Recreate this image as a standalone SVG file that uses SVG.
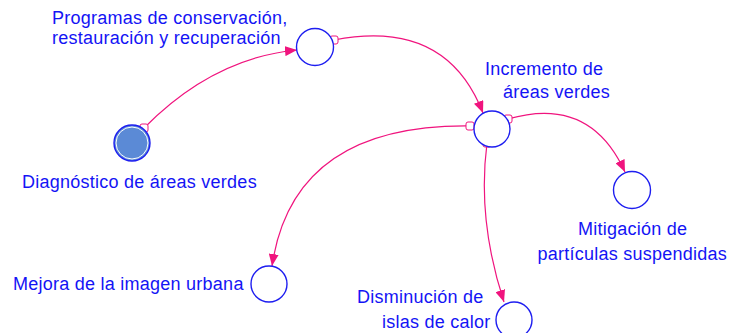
<svg xmlns="http://www.w3.org/2000/svg" width="731" height="333" viewBox="0 0 731 333">
<defs>
<marker id="arr" viewBox="0 0 12 10" refX="12" refY="5" markerWidth="12" markerHeight="10" markerUnits="userSpaceOnUse" orient="auto">
<path d="M0,0 L12,5 L0,10 Z" fill="#f0147e"/>
</marker>
</defs>
<style>
text{font-family:"Liberation Sans",Arial,sans-serif;font-size:18px;letter-spacing:0.25px;fill:#1414f5}
.n{fill:#fff;stroke:#1e1ef0;stroke-width:1.4}
.c{fill:none;stroke:#f0147e;stroke-width:1.2;marker-end:url(#arr)}
.s{fill:#fff;stroke:#f0147e;stroke-width:1}
</style>
<rect width="731" height="333" fill="#fff"/>
<g id="connectors">
<path class="c" d="M144,128 Q213,58 297,50"/>
<path class="c" d="M334,40 Q446,18 483,113"/>
<path class="c" d="M508,119 Q590,95 625,172"/>
<path class="c" d="M470,126 Q293,124 272,266"/>
<path class="c" d="M487,143 Q477,220 504,302"/>
<rect class="s" x="140" y="124" width="8" height="8" rx="2"/>
<rect class="s" x="330" y="36" width="8" height="8" rx="2"/>
<rect class="s" x="466" y="122" width="8" height="8" rx="2"/>
<rect class="s" x="504" y="115" width="8" height="8" rx="2"/>
<rect class="s" x="483" y="139" width="8" height="8" rx="2"/>
</g>
<g id="diagnostico">
<circle cx="132" cy="143" r="18" fill="#5b8ad6" stroke="#1e1ef0" stroke-width="1.4"/>
<circle cx="132" cy="143" r="16" fill="none" stroke="#fff" stroke-width="1"/>
<text x="22" y="188">Diagnóstico de áreas verdes</text>
</g>
<g id="programas">
<circle class="n" cx="315" cy="47" r="18.5"/>
<text x="52" y="24">Programas de conservación,</text>
<text x="52" y="44">restauración y recuperación</text>
</g>
<g id="incremento">
<circle class="n" cx="492" cy="129" r="18"/>
<text x="485" y="75">Incremento de</text>
<text x="503" y="98">áreas verdes</text>
</g>
<g id="mitigacion">
<circle class="n" cx="632" cy="190" r="18.5"/>
<text x="578" y="235">Mitigación de</text>
<text x="727" y="260" text-anchor="end">partículas suspendidas</text>
</g>
<g id="mejora">
<circle class="n" cx="269" cy="284" r="18"/>
<text x="13" y="290">Mejora de la imagen urbana</text>
</g>
<g id="disminucion">
<circle class="n" cx="514" cy="320" r="18"/>
<text x="357" y="303">Disminución de</text>
<text x="382" y="328">islas de calor</text>
</g>
</svg>
